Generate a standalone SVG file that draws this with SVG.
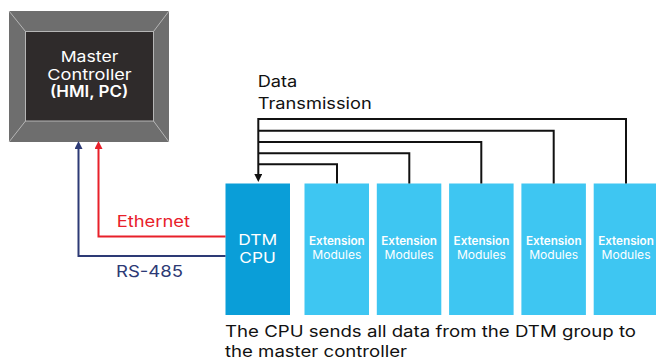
<svg xmlns="http://www.w3.org/2000/svg" width="656" height="361" viewBox="0 0 656 361">
<defs>
<style>
.t{font-family:Inter,"Liberation Sans",sans-serif}
.ext{fill:#3ec6f2}
.et{font-family:Inter,"Liberation Sans",sans-serif;font-size:11.5px;fill:#fff}
.bus{fill:none;stroke:#111;stroke-width:2}
</style>
<marker id="ab" markerWidth="8" markerHeight="8" refX="4" refY="4" orient="auto" markerUnits="userSpaceOnUse"><path d="M0,0 L8,4 L0,8 Z" fill="#2d3a75"/></marker>
<marker id="ar" markerWidth="8" markerHeight="8" refX="4" refY="4" orient="auto" markerUnits="userSpaceOnUse"><path d="M0,0 L8,4 L0,8 Z" fill="#e8202a"/></marker>
<marker id="ak" markerWidth="8" markerHeight="8" refX="4" refY="4" orient="auto" markerUnits="userSpaceOnUse"><path d="M0,0 L8,4 L0,8 Z" fill="#111"/></marker>
</defs>
<rect width="656" height="361" fill="#fff"/>

<g id="master">
<rect x="9" y="11" width="160" height="131" fill="#6e6e6e"/>
<rect x="25.5" y="31.5" width="128" height="89.5" fill="#2f2b2b" stroke="#b5b5b5" stroke-width="1"/>
<g stroke="#b5b5b5" stroke-width="1">
<line x1="9" y1="11" x2="25.5" y2="31.5"/>
<line x1="169" y1="11" x2="153.5" y2="31.5"/>
<line x1="9" y1="142" x2="25.5" y2="121"/>
<line x1="169" y1="142" x2="153.5" y2="121"/>
</g>
<text class="t" x="60.7" y="62" font-size="15" fill="#fff" textLength="57.6" lengthAdjust="spacingAndGlyphs">Master</text>
<text class="t" x="47.3" y="79.5" font-size="15" fill="#fff" textLength="84.4" lengthAdjust="spacingAndGlyphs">Controller</text>
<text class="t" x="50" y="97" font-size="15.5" font-weight="600" fill="#fff" textLength="78.3" lengthAdjust="spacingAndGlyphs">(HMI, PC)</text>
</g>

<g id="cpu">
<rect x="225.5" y="183.5" width="64.5" height="131.5" fill="#0a9ed8"/>
<text class="t" x="238.3" y="244.5" font-size="15" fill="#fff" textLength="39" lengthAdjust="spacingAndGlyphs">DTM</text>
<text class="t" x="239.3" y="262.5" font-size="15" fill="#fff" textLength="36.4" lengthAdjust="spacingAndGlyphs">CPU</text>
</g>

<g id="ext1"><rect class="ext" x="304.5" y="183.5" width="64.5" height="131.5"/><text class="et" x="309" y="245" font-weight="600" textLength="55.7" lengthAdjust="spacingAndGlyphs">Extension</text><text class="et" x="312.3" y="258.5" textLength="49" lengthAdjust="spacingAndGlyphs">Modules</text></g>
<g id="ext2"><rect class="ext" x="376.8" y="183.5" width="64.5" height="131.5"/><text class="et" x="381.3" y="245" font-weight="600" textLength="55.7" lengthAdjust="spacingAndGlyphs">Extension</text><text class="et" x="384.6" y="258.5" textLength="49" lengthAdjust="spacingAndGlyphs">Modules</text></g>
<g id="ext3"><rect class="ext" x="449.1" y="183.5" width="64.5" height="131.5"/><text class="et" x="453.6" y="245" font-weight="600" textLength="55.7" lengthAdjust="spacingAndGlyphs">Extension</text><text class="et" x="456.9" y="258.5" textLength="49" lengthAdjust="spacingAndGlyphs">Modules</text></g>
<g id="ext4"><rect class="ext" x="521.4" y="183.5" width="64.5" height="131.5"/><text class="et" x="525.9" y="245" font-weight="600" textLength="55.7" lengthAdjust="spacingAndGlyphs">Extension</text><text class="et" x="529.2" y="258.5" textLength="49" lengthAdjust="spacingAndGlyphs">Modules</text></g>
<g id="ext5"><rect class="ext" x="593.7" y="183.5" width="64.5" height="131.5"/><text class="et" x="598.2" y="245" font-weight="600" textLength="55.7" lengthAdjust="spacingAndGlyphs">Extension</text><text class="et" x="601.5" y="258.5" textLength="49" lengthAdjust="spacingAndGlyphs">Modules</text></g>

<g id="connectors">
<polyline points="225.5,256 78.5,256 78.5,145" fill="none" stroke="#2d3a75" stroke-width="2" marker-end="url(#ab)"/>
<polyline points="225.5,236.5 98.5,236.5 98.5,145" fill="none" stroke="#e8202a" stroke-width="2" marker-end="url(#ar)"/>
<polyline class="bus" points="626,183.5 626,119 258.3,119 258.3,178" marker-end="url(#ak)"/>
<polyline class="bus" points="553.7,183.5 553.7,130.7 258.3,130.7"/>
<polyline class="bus" points="481.3,183.5 481.3,142 258.3,142"/>
<polyline class="bus" points="409.3,183.5 409.3,153.3 258.3,153.3"/>
<polyline class="bus" points="337,183.5 337,164.3 258.3,164.3"/>
</g>

<text class="t" x="257.7" y="87" font-size="16" fill="#111" textLength="39.6" lengthAdjust="spacingAndGlyphs">Data</text>
<text class="t" x="257.7" y="109" font-size="16" fill="#111" textLength="114" lengthAdjust="spacingAndGlyphs">Transmission</text>
<text class="t" x="116.7" y="226.5" font-size="16" fill="#e8202a" textLength="73.3" lengthAdjust="spacingAndGlyphs">Ethernet</text>
<text class="t" x="116" y="277" font-size="16" fill="#2d3a75" textLength="67" lengthAdjust="spacingAndGlyphs">RS-485</text>
<text class="t" x="225" y="337" font-size="16" fill="#111" textLength="411" lengthAdjust="spacingAndGlyphs">The CPU sends all data from the DTM group to</text>
<text class="t" x="225" y="356.5" font-size="16" fill="#111" textLength="182" lengthAdjust="spacingAndGlyphs">the master controller</text>
</svg>
